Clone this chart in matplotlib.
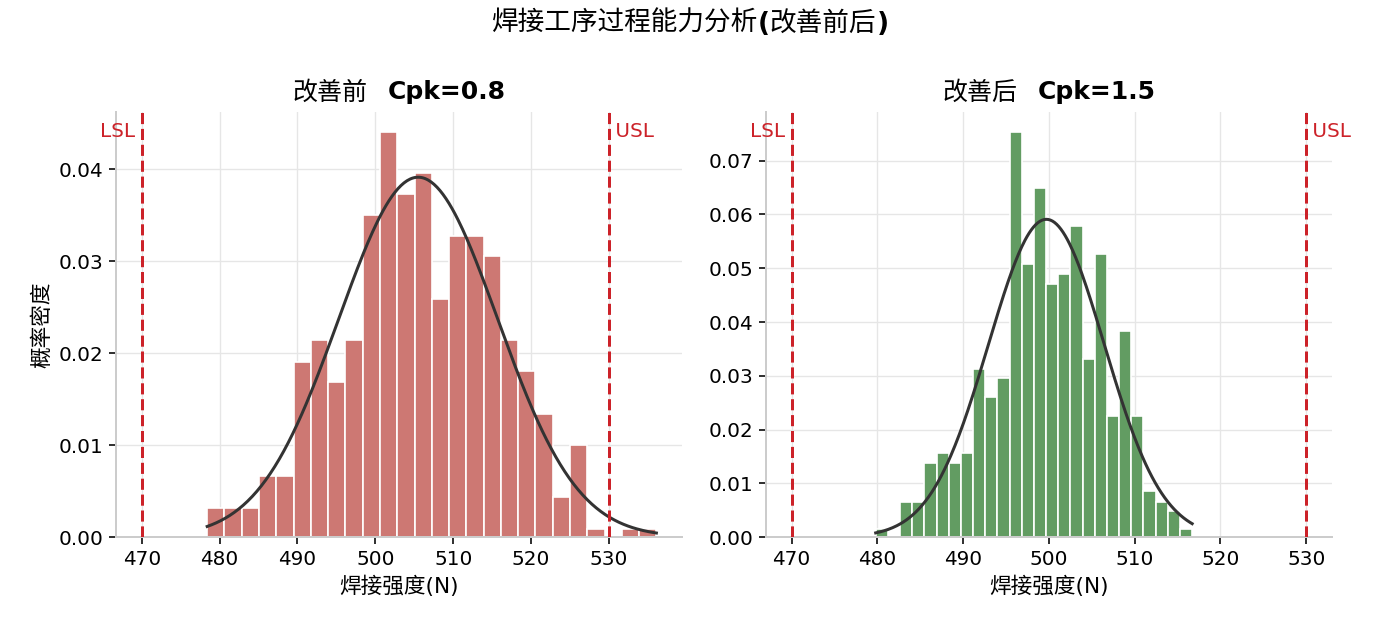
import numpy as np
import matplotlib
matplotlib.use('Agg')
from matplotlib import pyplot as plt
from matplotlib.offsetbox import TextArea, HPacker, AnchoredOffsetbox

plt.rcParams['font.family'] = ['DejaVu Sans', 'Noto Sans CJK SC']
plt.rcParams['axes.unicode_minus'] = False

# Spec limits
lsl = 470
usl = 530

# Before improvement: histogram (density per bin), 26 bins
before_min, before_max = 478.4, 536.1
before_density = [0.0032, 0.0032, 0.0032, 0.0066, 0.0066, 0.0190, 0.0214, 0.0169,
                  0.0214, 0.0350, 0.0440, 0.0373, 0.0396, 0.0259, 0.0327, 0.0327,
                  0.0305, 0.0214, 0.0180, 0.0134, 0.0043, 0.0100, 0.0009, 0.0,
                  0.0009, 0.0009]
before_mu, before_sigma = 505.5, 10.2
before_cpk = 0.8

# After improvement: histogram (density per bin), 26 bins
after_min, after_max = 479.8, 516.7
after_density = [0.0014, 0.0, 0.0066, 0.0066, 0.0137, 0.0156, 0.0137, 0.0156,
                 0.0313, 0.0260, 0.0296, 0.0753, 0.0507, 0.0649, 0.0471, 0.0490,
                 0.0578, 0.0331, 0.0526, 0.0225, 0.0384, 0.0225, 0.0085, 0.0066,
                 0.0049, 0.0014]
after_mu, after_sigma = 499.7, 6.75
after_cpk = 1.5

panels = [
    ("改善前", before_cpk, before_min, before_max, before_density, before_mu, before_sigma, '#cd7873'),
    ("改善后", after_cpk, after_min, after_max, after_density, after_mu, after_sigma, '#629c62'),
]


def mixed_text(parts, size, sep):
    # CJK parts regular, latin parts bold, packed on one baseline
    boxes = [TextArea(s, textprops=dict(fontsize=size, fontweight=w, color='black'))
             for s, w in parts]
    return HPacker(children=boxes, align='baseline', pad=0, sep=sep)


fig, axes = plt.subplots(1, 2, figsize=(11.5, 5.25), dpi=120)
fig.subplots_adjust(left=0.0841, right=0.9652, top=0.8222, bottom=0.1476, wspace=0.148)

for ax, (name, cpk, xmin, xmax, dens, mu, sigma, color) in zip(axes, panels):
    edges = np.linspace(xmin, xmax, len(dens) + 1)
    ax.bar(edges[:-1], dens, width=np.diff(edges), align='edge',
           color=color, edgecolor='white', linewidth=1.0, zorder=2)

    # fitted normal curve
    xs = np.linspace(xmin, xmax, 300)
    pdf = np.exp(-0.5 * ((xs - mu) / sigma) ** 2) / (sigma * np.sqrt(2 * np.pi))
    ax.plot(xs, pdf, color='#333333', lw=1.8, zorder=3)

    # spec limits
    ax.axvline(lsl, color='#cc2229', ls='--', lw=1.8, zorder=4)
    ax.axvline(usl, color='#cc2229', ls='--', lw=1.8, zorder=4)
    ax.autoscale_view()
    ymax = ax.get_ylim()[1]
    ax.text(lsl, ymax * 0.955, 'LSL ', color='#cc2229', fontsize=12, ha='right', va='center')
    ax.text(usl, ymax * 0.955, ' USL', color='#cc2229', fontsize=12, ha='left', va='center')

    # title: regular CJK + bold Cpk
    title = mixed_text([(name, 'normal'), ("Cpk=%s" % cpk, 'bold')], 15, 12)
    ax.add_artist(AnchoredOffsetbox(loc='lower center', child=title, pad=0, borderpad=0,
                                    frameon=False, bbox_to_anchor=(0.5, 1.018),
                                    bbox_transform=ax.transAxes))

    ax.set_xlabel("焊接强度(N)", fontsize=13)
    ax.set_xticks([470, 480, 490, 500, 510, 520, 530])
    ax.tick_params(labelsize=12, length=4, width=1.2, color='#333333')
    ax.grid(True, color='#e6e6e6', lw=0.8, zorder=0)
    ax.set_axisbelow(True)
    for side in ['top', 'right']:
        ax.spines[side].set_visible(False)
    for side in ['left', 'bottom']:
        ax.spines[side].set_color('#cccccc')
        ax.spines[side].set_linewidth(1.2)

axes[0].set_yticks([0.0, 0.01, 0.02, 0.03, 0.04])
axes[1].set_yticks([0.0, 0.01, 0.02, 0.03, 0.04, 0.05, 0.06, 0.07])
for ax in axes:
    ax.yaxis.set_major_formatter(matplotlib.ticker.FormatStrFormatter('%.2f'))
axes[0].set_ylabel("概率密度", fontsize=13)

sup = mixed_text([("焊接工序过程能力分析", 'normal'), ("(", 'bold'),
                  ("改善前后", 'normal'), (")", 'bold')], 16, 0)
fig.add_artist(AnchoredOffsetbox(loc='center', child=sup, pad=0, borderpad=0, frameon=False,
                                 bbox_to_anchor=(0.5, 0.962), bbox_transform=fig.transFigure))

plt.savefig('out.png', dpi=120)
